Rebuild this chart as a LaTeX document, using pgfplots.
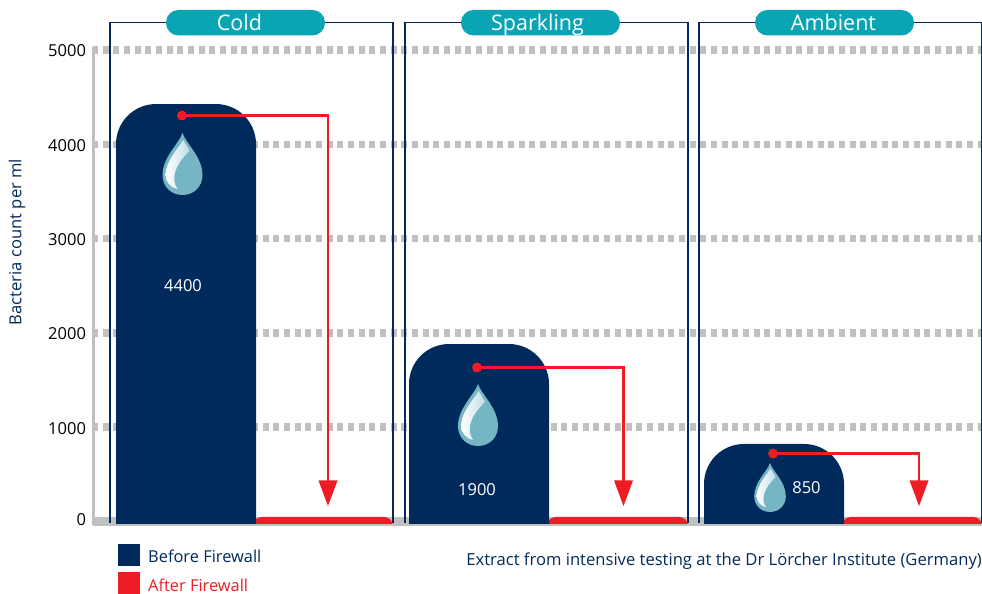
\documentclass[border=0pt]{standalone}
\usepackage{pgfplots}
\pgfplotsset{compat=1.18}
\usepackage{fontspec}
\setmainfont{Open Sans}
\definecolor{navy}{HTML}{002A5C}
\definecolor{redf}{HTML}{EE1C25}
\definecolor{teal1}{HTML}{09A5B4}
\definecolor{gridg}{HTML}{C0C0C0}
\definecolor{dropc}{HTML}{76B6C4}
\newcommand{\drop}[2]{%
  \begin{scope}[shift={(#1,#2)}]
    \fill[dropc] (0,0) .. controls (3,10) and (20,24) .. (20,42) .. controls (20,54) and (11,62) .. (0,62) .. controls (-11,62) and (-20,54) .. (-20,42) .. controls (-20,24) and (-3,10) .. (0,0) -- cycle;
    \shade[left color=white,right color=white!55!dropc] (0.5,7) .. controls (-3,14) and (-17,28) .. (-17,42) .. controls (-17,48) and (-13,54) .. (-5,56) .. controls (-12,46) and (-8,32) .. (7,18) .. controls (5,14) and (3,11) .. (0.5,7) -- cycle;
  \end{scope}}
\begin{document}
\begin{tikzpicture}[x=1pt,y=1pt]
\path[use as bounding box] (0,0) rectangle (982,594);
% axis with grid
\begin{axis}[
  at={(93pt,68.5pt)},anchor=south west,
  scale only axis,width=889pt,height=478.5pt,
  xmin=93,xmax=982,ymin=-42.4,ymax=5032,
  axis y line=left,axis x line=none,
  axis line style={gridg,line width=3pt,-},
  ytick={1000,2000,3000,4000,5000},
  extra y ticks={0},
  extra y tick style={yticklabel style={yshift=2.5pt},grid=none},
  major tick length=0pt,
  ymajorgrids,
  grid style={gridg,line width=7.5pt,dash pattern=on 6pt off 4.67pt,dash phase=1pt},
  tick label style={font=\fontsize{16.5}{18}\selectfont,text=black},
  yticklabel style={xshift=-3.5pt,yshift=-1pt},
  /pgf/number format/1000 sep={},
  /pgf/number format/assume math mode=true,
  ylabel={Bacteria count per ml},
  every axis y label/.style={at={(axis description cs:-0.0855,0.5925)},anchor=center,rotate=90},
  ylabel style={font=\fontsize{16.6}{18}\selectfont,text=navy},
  clip=false,
]
\addplot[gridg,line width=8.5pt] coordinates {(93,0)(982,0)};
\end{axis}
% panels and pills
\begin{scope}[x=1pt,y=-1pt,yshift=594pt]
\foreach \a/\t/\c in {110/Cold/239.5,405/Sparkling/537.5,699/Ambient/833.5}{
  \draw[navy,line width=1.2pt] (\a,523) -- (\a,22.5) -- (\a+283,22.5) -- (\a+283,523);
  \fill[teal1,rounded corners=12.5pt] (\a+56,10) rectangle (\a+215,35.5);
  \node[anchor=base,inner sep=0,text=white,font=\fontsize{21.5}{24}\selectfont] at (\c,30.5) {\t};
}
\end{scope}
% bars
\begin{axis}[
  at={(93pt,70.2pt)},anchor=south west,
  scale only axis,width=889pt,height=476.8pt,
  xmin=93,xmax=982,ymin=-24.4,ymax=5032,
  hide axis,
]
\addplot[fill=redf,draw=none,rounded corners=9pt] coordinates {(253,-300)(253,48)(393,48)(393,-300)} --cycle;
\addplot[fill=redf,draw=none,rounded corners=9pt] coordinates {(547,-300)(547,48)(688,48)(688,-300)} --cycle;
\addplot[fill=redf,draw=none,rounded corners=9pt] coordinates {(842,-300)(842,48)(982,48)(982,-300)} --cycle;
\addplot[fill=navy,draw=none,rounded corners=40pt] coordinates {(116,-500)(116,4427)(256,4427)(256,-500)} --cycle;
\addplot[fill=navy,draw=none,rounded corners=40pt] coordinates {(409,-500)(409,1882)(549,1882)(549,-500)} --cycle;
\addplot[fill=navy,draw=none,rounded corners=40pt] coordinates {(704,-500)(704,822)(844,822)(844,-500)} --cycle;
\end{axis}
% annotations
\begin{scope}[x=1pt,y=-1pt,yshift=594pt]
\drop{182.5}{133}
\drop{478}{384}
\begin{scope}[shift={(770,463)},yscale=.79,xscale=.79]\drop{0}{0}\end{scope}
\foreach \x/\y/\xe in {182/115.5/328,477/367.5/623.5,773/453.5/919}{
  \fill[redf] (\x,\y) circle (5);
  \draw[redf,line width=2.7pt] (\x,\y) -- (\xe,\y) -- (\xe,482);
  \fill[redf] (\xe-9.5,480.5) -- (\xe+9.5,480.5) -- (\xe,506) -- cycle;
}
\node[text=white,font=\fontsize{16.5}{18}\selectfont] at (183,285.5) {4400};
\node[text=white,font=\fontsize{16.5}{18}\selectfont] at (477,489.5) {1900};
\node[text=white,font=\fontsize{16.5}{18}\selectfont] at (806.5,487.5) {850};
\fill[navy] (118,544) rectangle (140,566);
\fill[redf] (118,572) rectangle (140,594);
\node[anchor=west,inner sep=0,text=navy,font=\fontsize{16.4}{18}\selectfont] at (148,556) {Before Firewall};
\node[anchor=west,inner sep=0,text=redf,font=\fontsize{16.4}{18}\selectfont] at (148,585) {After Firewall};
\node[anchor=east,inner sep=0,text=navy,font=\fontsize{16.6}{18}\selectfont] at (982,561) {Extract from intensive testing at the Dr Lörcher Institute (Germany)};
\end{scope}
\end{tikzpicture}
\end{document}
